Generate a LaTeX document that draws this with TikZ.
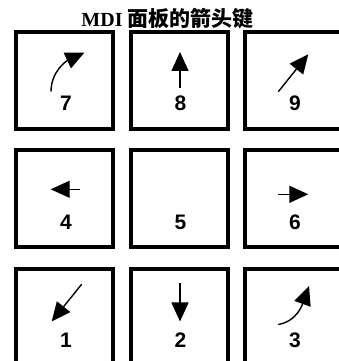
\documentclass[tikz,border=0pt]{standalone}
\usepackage{fontspec}
\setmainfont{Liberation Serif}
\setsansfont{Liberation Sans}
\newfontfamily\cjk{Noto Sans CJK SC}
\usetikzlibrary{arrows.meta,positioning}
\tikzset{key/.style={draw=black, line width=4pt, minimum size=97pt, inner sep=0pt}, digit/.style={font=\sffamily\bfseries\fontsize{21}{24}\selectfont, inner sep=0pt}, keyarrow/.style={-{Triangle[length=19pt,width=17pt]}, line width=1.4pt}, ttl/.style={font=\bfseries\fontsize{20}{24}\selectfont, inner sep=0pt}}

\begin{document}
\begin{tikzpicture}[x=1pt,y=1pt]
\useasboundingbox (0,0) rectangle (339,361);
\clip (0,0) rectangle (339,361);
\node[ttl, anchor=base] (title) at (167.5,334.5) {MDI {\cjk\fontsize{21}{24}\selectfont 面板的箭头键}};
\node[key] (k7) at (64.5,280.5) {};
\node[key, right=13.5pt of k7] (k8) {};
\node[key, right=13.5pt of k8] (k9) {};
\node[key, below=17.5pt of k7] (k4) {};
\node[key, right=13.5pt of k4] (k5) {};
\node[key, right=13.5pt of k5] (k6) {};
\node[key, below=17.5pt of k4] (k1) {};
\node[key, right=13.5pt of k1] (k2) {};
\node[key, right=13.5pt of k2] (k3) {};
\foreach \n in {1,...,9} \node[digit] (d\n) at ([xshift=1.5pt,yshift=-23pt]k\n.center) {\n};
\draw[keyarrow] ([shift={(-13.5,-11.2)}]k7.center) to[out=90,in=205] ([shift={(20,28)}]k7.center);
\draw[keyarrow] ([shift={(1,-7.5)}]k8.center) -- ([shift={(1,28.5)}]k8.center);
\draw[keyarrow] ([shift={(-15.2,-11.2)}]k9.center) -- ([shift={(14.8,26.2)}]k9.center);
\draw[keyarrow] ([shift={(15.5,9.7)}]k4.center) -- ([shift={(-13.8,9.7)}]k4.center);
\draw[keyarrow] ([shift={(-15.2,4.7)}]k6.center) -- ([shift={(14.8,4.7)}]k6.center);
\draw[keyarrow] ([shift={(17.2,33.3)}]k1.center) -- ([shift={(-12.8,-4)}]k1.center);
\draw[keyarrow] ([shift={(1,34)}]k2.center) -- ([shift={(1,-4)}]k2.center);
\draw[keyarrow] ([shift={(-15.2,-7)}]k3.center) to[out=10,in=250] ([shift={(15.5,31.5)}]k3.center);
\end{tikzpicture}
\end{document}
